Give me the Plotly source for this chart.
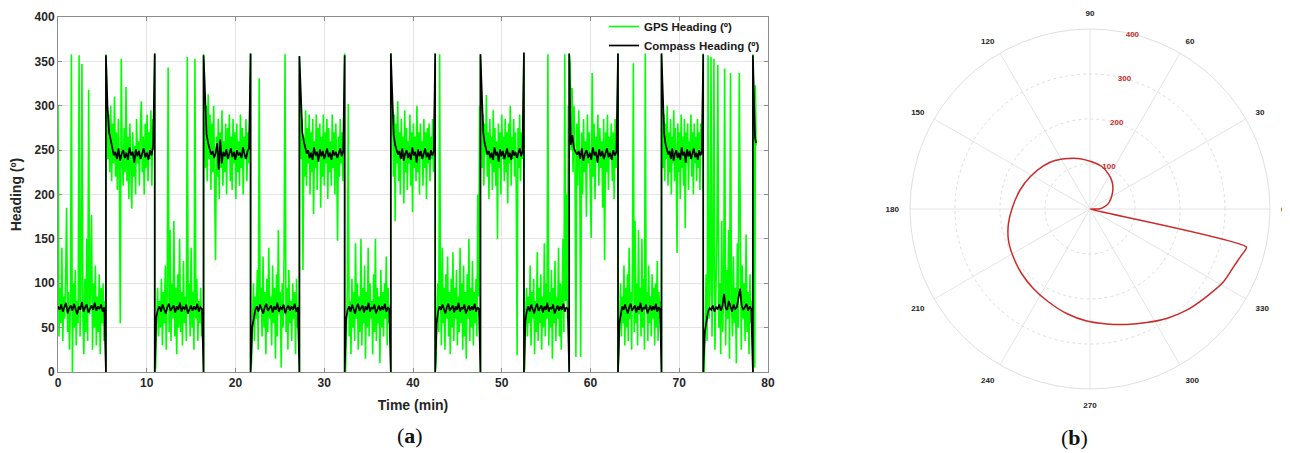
import numpy as np
import plotly.graph_objects as go

# ---------------- data: panel (a) ----------------
BOUNDS = [0.0, 5.4, 10.9, 16.4, 21.7, 27.2, 32.3, 37.5, 42.5, 47.6, 52.5, 57.6,
          63.1, 68.0, 72.7, 78.3, 78.65]
LEVELS = ['L', 'H'] * 8

# peak value reached when the heading wraps through 0/360 at each boundary
GPS_TOP = [358, 359, 358, 359, 355, 359, 359, 359, 358, 359, 359, 359, 358, 359, 358]
CMP_TOP = [357, 359, 357, 359, 356, 357, 359, 359, 358, 360, 359, 359, 359, 358, 357]

GPS_SEGS = [
    [300, 40, 95, 55, 140, 35, 85, 60, 110, 185, 45, 90, 25, 75, 358, 0, 100, 50, 115, 30,
     80, 55, 357, 40, 95, 347, 60, 20, 105, 45, 150, 35, 318, 65, 90, 177, 25, 100, 50, 120,
     30, 85, 45, 110, 20, 95, 55, 100, 35, 80],
    [315, 240, 290, 225, 300, 215, 280, 235, 310, 220, 270, 205, 285, 230, 55, 353, 245, 210, 275, 225,
     321, 215, 265, 195, 280, 230, 184, 270, 220, 255, 200, 285, 235, 260, 210, 275, 305, 225, 265, 200,
     280, 230, 290, 215, 270, 240, 295, 210, 285, 250],
    [5, 60, 95, 40, 80, 50, 105, 30, 90, 55, 120, 25, 85, 343, 45, 160, 35, 100, 60, 170,
     40, 95, 20, 110, 50, 150, 45, 90, 30, 125, 55, 85, 35, 355, 65, 100, 40, 140, 50, 90,
     25, 353, 60, 105, 35, 80, 55, 95, 40, 70],
    [335, 230, 300, 215, 313, 240, 290, 205, 280, 225, 300, 210, 126, 265, 220, 285, 195, 270, 230, 295,
     210, 260, 225, 280, 200, 275, 240, 290, 215, 265, 205, 285, 235, 270, 195, 280, 225, 260, 210, 290,
     230, 275, 200, 265, 240, 285, 215, 270, 235, 280],
    [10, 55, 100, 35, 85, 60, 115, 25, 331, 70, 95, 40, 130, 50, 90, 20, 105, 45, 140, 60,
     85, 30, 120, 55, 95, 15, 110, 40, 160, 65, 90, 5, 100, 50, 135, 358, 45, 95, 25, 115,
     55, 80, 35, 100, 60, 90, 20, 105, 50, 75],
    [300, 240, 285, 115, 265, 220, 295, 210, 275, 235, 290, 200, 270, 225, 285, 178, 260, 230, 290, 205,
     275, 240, 280, 185, 265, 220, 290, 210, 270, 235, 285, 195, 275, 225, 260, 210, 290, 230, 270, 200,
     280, 240, 148, 265, 220, 285, 235, 270, 215, 260],
    [0, 55, 95, 302, 40, 80, 20, 105, 50, 90, 35, 145, 60, 100, 25, 85, 45, 150, 30, 95,
     55, 120, 15, 90, 50, 140, 40, 100, 60, 80, 20, 110, 45, 150, 35, 95, 55, 85, 10, 115,
     50, 90, 40, 100, 60, 130, 30, 95, 55, 75],
    [265, 300, 220, 290, 170, 280, 235, 305, 215, 270, 200, 285, 240, 265, 190, 295, 225, 275, 205, 260,
     235, 290, 210, 270, 180, 280, 230, 265, 215, 300, 225, 270, 200, 280, 240, 260, 210, 285, 230, 270,
     195, 275, 235, 280, 215, 265, 240, 285, 225, 260],
    [10, 70, 100, 45, 358, 85, 30, 140, 55, 95, 25, 110, 60, 130, 40, 90, 20, 105, 50, 135,
     35, 95, 60, 115, 30, 85, 45, 140, 55, 100, 25, 120, 40, 90, 15, 110, 60, 150, 35, 95,
     50, 125, 30, 90, 55, 105, 40, 200, 85, 300],
    [320, 230, 290, 210, 280, 245, 312, 220, 270, 195, 285, 235, 265, 205, 295, 225, 275, 210, 260, 150,
     280, 230, 270, 200, 290, 240, 265, 215, 285, 225, 270, 190, 280, 235, 300, 210, 265, 240, 285, 220,
     270, 205, 19, 275, 230, 290, 215, 270, 240, 300],
    [5, 65, 95, 40, 85, 55, 120, 30, 90, 60, 105, 20, 80, 45, 135, 35, 95, 55, 110, 25,
     85, 50, 145, 40, 100, 60, 358, 30, 90, 50, 115, 15, 95, 55, 125, 35, 85, 60, 140, 40,
     100, 25, 110, 150, 45, 358, 80, 200, 60, 300],
    [348, 250, 320, 225, 300, 240, 17, 280, 210, 295, 230, 17, 270, 200, 285, 225, 260, 175, 290, 235,
     270, 205, 151, 337, 220, 280, 195, 265, 240, 290, 210, 275, 230, 260, 185, 285, 126, 270, 225, 290,
     205, 265, 240, 280, 215, 270, 195, 285, 230, 265],
    [20, 60, 100, 40, 85, 55, 120, 30, 95, 50, 110, 35, 140, 60, 90, 25, 130, 348, 45, 170,
     55, 100, 30, 160, 65, 95, 40, 150, 50, 105, 25, 359, 70, 90, 35, 120, 55, 85, 40, 110,
     60, 95, 30, 100, 50, 125, 35, 90, 60, 80],
    [306, 230, 290, 215, 280, 240, 300, 210, 270, 225, 285, 200, 265, 235, 295, 215, 275, 240, 134, 280,
     225, 270, 195, 290, 230, 265, 210, 285, 162, 270, 235, 280, 205, 260, 240, 290, 220, 270, 200, 280,
     235, 265, 215, 285, 230, 270, 205, 280, 245, 275],
    [0, 55, 110, 35, 357, 60, 95, 355, 40, 120, 353, 25, 85, 150, 346, 50, 100, 20, 170, 45,
     90, 342, 30, 115, 60, 160, 15, 337, 80, 40, 130, 55, 95, 10, 145, 50, 337, 85, 25, 120,
     60, 100, 35, 155, 45, 90, 20, 110, 55, 80],
    [280, 250, 5, 323, 255],
]

CMP_SEGS = [
    [74, 70, 76, 68, 73, 78, 66, 72, 75, 69, 77, 71, 65, 74, 70, 79, 68, 73, 76, 67,
     72, 75, 70, 78, 69, 74, 71, 76, 68, 73],
    [300, 270, 262, 254, 244, 248, 240, 252, 238, 246, 250, 241, 247, 239, 253, 244, 248, 236, 251, 243,
     249, 240, 246, 252, 242, 247, 239, 250, 244, 256],
    [62, 70, 74, 68, 76, 71, 66, 73, 77, 69, 72, 75, 67, 74, 70, 78, 68, 73, 71, 76,
     66, 72, 75, 69, 74, 70, 77, 68, 73, 71],
    [298, 268, 258, 250, 245, 249, 241, 247, 258, 228, 262, 235, 248, 243, 251, 240, 246, 252, 242, 248,
     239, 250, 244, 247, 241, 253, 245, 240, 249, 252],
    [50, 63, 70, 74, 68, 76, 71, 66, 73, 77, 69, 72, 75, 67, 74, 70, 78, 68, 73, 71,
     76, 66, 72, 75, 69, 74, 70, 77, 68, 73],
    [300, 270, 260, 252, 246, 250, 241, 247, 239, 253, 244, 248, 237, 251, 243, 249, 240, 246, 252, 242,
     247, 239, 250, 244, 248, 241, 246, 252, 243, 249],
    [60, 70, 74, 68, 76, 71, 66, 73, 77, 69, 72, 75, 67, 74, 70, 78, 68, 73, 71, 76,
     66, 72, 75, 69, 74, 70, 77, 68, 73, 71],
    [302, 268, 256, 250, 245, 249, 240, 252, 238, 246, 250, 241, 247, 239, 253, 244, 248, 236, 251, 243,
     249, 240, 246, 252, 242, 247, 239, 250, 244, 248],
    [55, 68, 74, 70, 76, 71, 66, 73, 77, 69, 72, 75, 67, 74, 70, 78, 68, 73, 71, 76,
     66, 72, 75, 69, 74, 70, 77, 68, 73, 71],
    [300, 270, 258, 251, 245, 249, 241, 247, 239, 253, 244, 248, 237, 251, 243, 249, 240, 246, 252, 242,
     247, 239, 250, 244, 248, 241, 246, 252, 243, 249],
    [58, 69, 74, 68, 76, 71, 66, 73, 77, 69, 72, 75, 67, 74, 70, 78, 68, 73, 71, 76,
     66, 72, 75, 69, 74, 70, 77, 68, 73, 71],
    [256, 267, 252, 248, 245, 249, 240, 252, 238, 246, 250, 241, 247, 239, 253, 244, 248, 236, 251, 243,
     249, 240, 246, 252, 242, 247, 239, 250, 244, 248],
    [55, 68, 74, 70, 76, 71, 66, 73, 77, 69, 72, 75, 67, 74, 70, 78, 68, 73, 71, 76,
     66, 72, 75, 69, 74, 70, 77, 68, 73, 71],
    [300, 268, 257, 250, 245, 249, 240, 252, 238, 246, 250, 241, 247, 239, 253, 244, 248, 236, 251, 243,
     249, 240, 246, 252, 242, 247, 239, 250, 244, 248],
    [45, 60, 68, 72, 70, 75, 68, 73, 71, 76, 69, 74, 88, 72, 70, 80, 74, 68, 76, 71,
     73, 82, 94, 75, 70, 73, 77, 69, 74, 71],
    [300, 265, 258],
]

X_TICKS = [0, 10, 20, 30, 40, 50, 60, 70, 80]
Y_TICKS = [0, 50, 100, 150, 200, 250, 300, 350, 400]

# ---------------- data: panel (b) ----------------
SPIRAL_THETA = [0, 0, 2, 8, 17, 29.6, 39.6, 51, 62.4, 74.6, 88, 101, 113, 126, 137.3, 151.7,
                164.8, 178.3, 190, 200.8, 211.9, 223.3, 234.5, 245.8, 257.4, 268.3, 278.2,
                287.6, 296.5, 305, 313.7, 323.1, 331.4, 338.9, 343.1, 346.3, 346.3]
SPIRAL_R = [0, 13, 22, 31, 43, 55, 66, 78, 88, 98, 105, 114, 122, 133, 141, 151,
            161, 172, 184, 194, 201, 209, 217, 226, 238, 249, 258,
            269, 282, 297, 311, 324, 338, 345, 352, 358, 0]
R_TICKS = [100, 200, 300, 400]
THETA_TICKS = [0, 30, 60, 90, 120, 150, 180, 210, 240, 270, 300, 330]


def build(segs, tops):
    xs, ys = [], []
    nseg = len(segs)
    for i, vals in enumerate(segs):
        a, b = BOUNDS[i], BOUNDS[i + 1]
        n = len(vals)
        if i == 0:
            t = np.linspace(a, b, n + 1)[:-1]
        elif i == nseg - 1:
            t = np.linspace(a, b, n + 1)[1:]
        else:
            t = np.linspace(a, b, n + 2)[1:-1]
        xs.extend(t.tolist())
        ys.extend(vals)
        if i < nseg - 1:
            if LEVELS[i] == 'L':
                xs += [b, b]
                ys += [0, tops[i]]
            else:
                xs += [b, b]
                ys += [tops[i], 0]
    return xs, ys


gx, gy = build(GPS_SEGS, GPS_TOP)
cx, cy = build(CMP_SEGS, CMP_TOP)

W, H = 1290, 453
OFF = 8  # the page places the figure 8px in from the top-left corner
AX_L, AX_R, AX_T, AX_B = 58 - OFF, 768 - OFF, 17 - OFF, 372 - OFF
PC_X, PC_Y, PR = 1090 - OFF, 209 - OFF, 180

FONT = "Liberation Sans, Arial, sans-serif"

fig = go.Figure()
fig.add_trace(go.Scatter(x=gx, y=gy, mode='lines', name='GPS Heading (º)',
                         line=dict(color='#00ff00', width=1.6)))
fig.add_trace(go.Scatter(x=cx, y=cy, mode='lines', name='Compass Heading (º)',
                         line=dict(color='#000000', width=1.7)))
fig.add_trace(go.Scatterpolar(theta=SPIRAL_THETA, r=SPIRAL_R, mode='lines',
                              line=dict(color='#cc2a2a', width=1.5, shape='spline', smoothing=0.6),
                              showlegend=False, subplot='polar'))

axis_common = dict(showline=True, linecolor='#8c8c8c', linewidth=1, mirror='ticks',
                   ticks='inside', ticklen=4, tickcolor='#8c8c8c', automargin=False,
                   showgrid=True, gridcolor='#e4e4e4', gridwidth=1, zeroline=False,
                   tickfont=dict(family=FONT, size=12, color='#262626', weight='bold'))

fig.update_layout(
    width=W, height=H,
    margin=dict(l=0, r=0, t=0, b=0, autoexpand=False),
    paper_bgcolor='white', plot_bgcolor='white',
    xaxis=dict(domain=[AX_L / W, AX_R / W], range=[0, 80], tickvals=X_TICKS,
               title=dict(text='Time (min)', font=dict(family=FONT, size=14, color='#262626', weight='bold'),
                          standoff=10),
               **axis_common),
    yaxis=dict(domain=[1 - AX_B / H, 1 - AX_T / H], range=[0, 400], tickvals=Y_TICKS,
               title=dict(text='Heading (º)', font=dict(family=FONT, size=14, color='#262626', weight='bold'),
                          standoff=9),
               **axis_common),
    legend=dict(x=(765 - OFF) / W, xanchor='right', y=1 - (12 - OFF) / H, yanchor='top',
                bgcolor='rgba(255,255,255,0)', borderwidth=0, tracegroupgap=0,
                font=dict(family=FONT, size=11.5, color='#1a1a1a', weight='bold')),
    polar=dict(
        domain=dict(x=[(PC_X - PR) / W, (PC_X + PR) / W],
                    y=[1 - (PC_Y + PR) / H, 1 - (PC_Y - PR) / H]),
        bgcolor='white',
        radialaxis=dict(range=[0, 400], tickvals=R_TICKS, angle=80, side='clockwise',
                        tickangle=80,
                        showline=False, ticks='', gridcolor='#dedede', griddash='dot',
                        tickfont=dict(family=FONT, size=8, color='#cc2a2a', weight='bold')),
        angularaxis=dict(rotation=0, direction='counterclockwise', tickvals=THETA_TICKS,
                         ticks='outside', ticklen=9, tickcolor='rgba(0,0,0,0)',
                         showline=True, linecolor='#e0e0e0', gridcolor='#e4e4e4',
                         tickfont=dict(family=FONT, size=8, color='#222222', weight='bold')),
    ),
    annotations=[
        dict(text='(<b>a</b>)', x=(395 - OFF) / W, y=1 - (435 - OFF) / H, xref='paper', yref='paper',
             yanchor='middle', showarrow=False,
             font=dict(family='Liberation Serif, DejaVu Serif, serif', size=22, color='#111')),
        dict(text='(<b>b</b>)', x=PC_X / W, y=1 - (437 - OFF) / H, xref='paper', yref='paper',
             yanchor='middle', showarrow=False,
             font=dict(family='Liberation Serif, DejaVu Serif, serif', size=22, color='#111')),
    ],
)

fig.write_html("out.html")
